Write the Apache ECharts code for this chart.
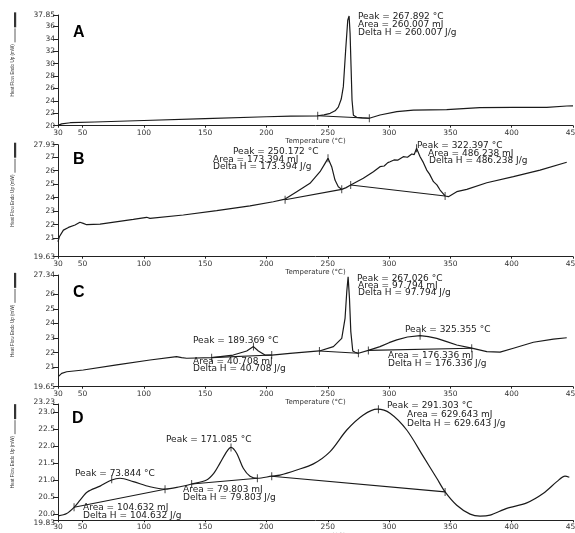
<!DOCTYPE html>
<html><head><meta charset="utf-8">
<script src="https://cdn.jsdelivr.net/npm/echarts@6/dist/echarts.min.js"></script>
<style>html,body{margin:0;padding:0;background:#fff}#c{width:575px;height:533px}</style>
</head><body><div id="c"></div>
<script>
// ---------- data ----------
const xTicks = [30, 50, 100, 150, 200, 250, 300, 350, 400, 450];

const yTicksA = [20, 22, 24, 26, 28, 30, 32, 34, 36, 37.85];
const yLabelsA = ['20', '22', '24', '26', '28', '30', '32', '34', '36', '37.85'];
const yTicksB = [19.63, 21, 22, 23, 24, 25, 26, 27, 27.93];
const yLabelsB = ['19.63', '21', '22', '23', '24', '25', '26', '27', '27.93'];
const yTicksC = [19.65, 21, 22, 23, 24, 25, 26, 27.34];
const yLabelsC = ['19.65', '21', '22', '23', '24', '25', '26', '27.34'];
const yTicksD = [19.83, 20.0, 20.5, 21.0, 21.5, 22.0, 22.5, 23.0, 23.23];
const yLabelsD = ['19.83', '20.0', '20.5', '21.0', '21.5', '22.0', '22.5', '23.0', '23.23'];

const tempA = [30, 33, 40, 60, 100, 150, 200, 220, 241.8, 247, 252, 256, 258.6, 261, 262.7, 264.6, 266.3, 267.4, 268.2, 269, 269.8, 270.9, 273.6, 278, 283.9, 292.6, 306.3, 319.8, 347, 374, 401, 428.6, 445, 450];
const heatA = [20.05, 20.3, 20.48, 20.6, 20.84, 21.14, 21.44, 21.56, 21.6, 21.75, 22.0, 22.4, 23.0, 24.3, 26.3, 32.2, 37.0, 37.7, 34.9, 29.5, 24.1, 21.7, 21.35, 21.25, 21.2, 21.73, 22.26, 22.5, 22.6, 22.9, 22.95, 22.95, 23.18, 23.2];
const baseTempA = [[241.8, 283.9]];
const baseHeatA = [[21.6, 21.2]];
const tickTempA = [241.8, 283.9];
const tickHeatA = [21.6, 21.2];

const tempB = [30, 31.1, 34.4, 38.5, 43.9, 47.9, 50.6, 53.4, 64.3, 91.4, 102.3, 105, 132.2, 159.4, 186.6, 205.6, 215.2, 224.7, 235.5, 243.7, 247.8, 250.2, 253.2, 255.9, 258.6, 261.4, 265, 268.7, 279, 287.2, 292.6, 296, 299, 300.8, 304, 307, 311.6, 315, 318.5, 320.5, 322.4, 325.3, 328, 330.7, 333, 336.2, 339, 341.6, 345.7, 348.4, 355.2, 363.4, 379.7, 401.4, 423.1, 444.9];
const heatB = [20.74, 21.11, 21.6, 21.8, 21.98, 22.18, 22.1, 22.0, 22.05, 22.4, 22.55, 22.47, 22.72, 23.04, 23.39, 23.7, 23.9, 24.45, 25.07, 25.93, 26.55, 26.92, 26.3, 25.31, 24.82, 24.62, 24.75, 24.94, 25.44, 25.93, 26.3, 26.35, 26.6, 26.67, 26.8, 26.78, 27.04, 27.0, 27.24, 27.2, 27.66, 27.04, 26.6, 26.05, 25.75, 25.19, 24.95, 24.57, 24.13, 24.08, 24.45, 24.62, 25.11, 25.56, 26.05, 26.63];
const baseTempB = [[215.2, 261.4], [268.7, 345.7]];
const baseHeatB = [[23.85, 24.62], [24.94, 24.13]];
const tickTempB = [215.2, 261.4, 268.7, 345.7, 250.2, 322.4];
const tickHeatB = [23.85, 24.62, 24.94, 24.13, 26.92, 27.66];

const tempC = [30.2, 33, 37.1, 50.6, 77.9, 105, 126.7, 130.8, 134.9, 155.3, 172.9, 183.9, 189.4, 193.4, 198.8, 204.3, 219.2, 243.2, 254.6, 261.4, 264.1, 265.5, 266.6, 267.7, 268.8, 270.4, 272.3, 275, 283.1, 292.6, 300, 306.3, 315, 325.3, 332, 338.9, 347, 355.2, 367.4, 379.7, 390.5, 401.4, 417.7, 434, 444.9];
const heatC = [20.34, 20.57, 20.68, 20.8, 21.15, 21.49, 21.72, 21.65, 21.61, 21.65, 21.83, 22.11, 22.41, 22.11, 21.83, 21.83, 21.95, 22.11, 22.41, 22.98, 24.36, 26.19, 27.22, 25.74, 23.44, 22.11, 22.02, 21.95, 22.15, 22.41, 22.68, 22.87, 23.07, 23.16, 23.1, 22.98, 22.75, 22.52, 22.3, 22.06, 22.03, 22.3, 22.71, 22.93, 23.02];
const baseTempC = [[155.3, 204.3], [243.2, 275], [283.1, 367.4]];
const baseHeatC = [[21.65, 21.83], [22.11, 21.95], [22.15, 22.3]];
const tickTempC = [155.3, 204.3, 189.4, 243.2, 275, 283.1, 367.4, 325.3];
const tickHeatC = [21.65, 21.83, 22.41, 22.11, 21.95, 22.15, 22.3, 23.16];

const tempD = [30.2, 37.1, 43.1, 48, 53.9, 64.3, 73.8, 80.6, 91.4, 105, 117.3, 129.5, 139, 151.2, 157, 162.1, 167.6, 171.1, 175.7, 181.1, 186.6, 192.6, 204.3, 211, 224.7, 238.3, 251.9, 265.5, 279, 290.5, 300.8, 314.4, 328, 338.9, 345.7, 355.2, 366.1, 374.2, 382.4, 396, 412.3, 425.9, 436.8, 443.5, 447];
const heatD = [19.96, 20.03, 20.21, 20.42, 20.66, 20.83, 21.01, 21.06, 20.96, 20.81, 20.74, 20.81, 20.89, 21.01, 21.2, 21.5, 21.84, 21.96, 21.79, 21.35, 21.12, 21.06, 21.12, 21.15, 21.3, 21.48, 21.84, 22.47, 22.91, 23.08, 22.96, 22.47, 21.69, 21.06, 20.66, 20.27, 20.01, 19.95, 19.98, 20.18, 20.34, 20.62, 20.96, 21.12, 21.09];
const baseTempD = [[43.1, 117.3], [139, 192.6], [204.3, 345.7]];
const baseHeatD = [[20.21, 20.74], [20.89, 21.06], [21.12, 20.66]];
const tickTempD = [43.1, 117.3, 73.8, 139, 192.6, 171.1, 204.3, 345.7, 291.3];
const tickHeatD = [20.21, 20.74, 21.03, 20.89, 21.06, 21.96, 21.12, 20.66, 23.08];

const panelLetters = ['A', 'B', 'C', 'D'];
const annotations = [
  ['Peak = 267.892 °C', 'Area = 260.007 mJ', 'Delta H = 260.007 J/g'],
  ['Peak = 250.172 °C', 'Area = 173.394 mJ', 'Delta H = 173.394 J/g'],
  ['Peak = 322.397 °C', 'Area = 486.238 mJ', 'Delta H = 486.238 J/g'],
  ['Peak = 189.369 °C', 'Area = 40.708 mJ', 'Delta H = 40.708 J/g'],
  ['Peak = 267.026 °C', 'Area = 97.794 mJ', 'Delta H = 97.794 J/g'],
  ['Peak = 325.355 °C', 'Area = 176.336 mJ', 'Delta H = 176.336 J/g'],
  ['Peak = 73.844 °C', 'Area = 104.632 mJ', 'Delta H = 104.632 J/g'],
  ['Peak = 171.085 °C', 'Area = 79.803 mJ', 'Delta H = 79.803 J/g'],
  ['Peak = 291.303 °C', 'Area = 629.643 mJ', 'Delta H = 629.643 J/g']
];
const xName = 'Temperature (°C)';
const yName = 'Heat Flow Endo Up (mW)';

// ---------- layout ----------
const panels = [
  {top: 15, height: 110.7, min: 20, max: 37.85, ticks: yTicksA, labels: yLabelsA, t: tempA, v: heatA, bt: baseTempA, bv: baseHeatA, kt: tickTempA, kv: tickHeatA, smooth: false, endPad: [0, 0], nameGap: 10},
  {top: 144.7, height: 112, min: 19.63, max: 27.93, ticks: yTicksB, labels: yLabelsB, t: tempB, v: heatB, bt: baseTempB, bv: baseHeatB, kt: tickTempB, kv: tickHeatB, smooth: false, endPad: [0, 0], nameGap: 10},
  {top: 275, height: 111.7, min: 19.65, max: 27.34, ticks: yTicksC, labels: yLabelsC, t: tempC, v: heatC, bt: baseTempC, bv: baseHeatC, kt: tickTempC, kv: tickHeatC, smooth: false, endPad: [0, 0], nameGap: 10},
  {top: 404, height: 116.3, min: 19.83, max: 23.23, ticks: yTicksD, labels: yLabelsD, t: tempD, v: heatD, bt: baseTempD, bv: baseHeatD, kt: tickTempD, kv: tickHeatD, smooth: 0.3, endPad: [5, 4], nameGap: 8}
];
const letterPos = [[73, 32.5], [73, 159.5], [73, 293], [72, 419]];
const annoPos = [
  [[358, 17], [358, 25], [358, 33]],
  [[233, 151.7], [213, 159.3], [213, 166.7]],
  [[417, 145.7], [428, 153.3], [429, 160.7]],
  [[193, 341], [193, 361.7], [193, 369]],
  [[357, 279], [358, 286], [358, 293]],
  [[405, 329.3], [388, 355.7], [388, 364]],
  [[75, 474], [83, 508], [83, 516]],
  [[166, 439.3], [183, 490], [183, 497.3]],
  [[387, 405.7], [407, 415], [407, 423.3]]
];

const ink = '#1a1a1a';
const axisFont = '"DejaVu Sans", sans-serif';
const grid = [], xAxis = [], yAxis = [], series = [], graphic = [];

panels.forEach((p, i) => {
  grid.push({left: 58, right: 2, top: p.top, height: p.height, outerBoundsMode: 'none', containLabel: false});
  xAxis.push({
    type: 'value', gridIndex: i, min: 30, max: 450,
    name: xName, nameLocation: 'middle', nameGap: p.nameGap,
    nameTextStyle: {fontFamily: axisFont, fontSize: 7, color: '#333'},
    axisLine: {lineStyle: {color: '#222', width: 1}},
    axisTick: {customValues: xTicks, length: 2, lineStyle: {color: '#222'}},
    axisLabel: {customValues: xTicks, fontFamily: axisFont, fontSize: 7.5, color: '#333', margin: 3,
      showMinLabel: true, showMaxLabel: true, hideOverlap: false},
    splitLine: {show: false}
  });
  const lab = {};
  p.ticks.forEach((t, k) => { lab[t] = p.labels[k]; });
  const lo = p.ticks[0], hi = p.ticks[p.ticks.length - 1];
  const inner = p.ticks.slice(1, p.ticks.length - 1);
  const fmt = v => (lab[v] !== undefined ? lab[v] : '');
  // main y axis: inner ticks
  yAxis.push({
    type: 'value', gridIndex: i, min: p.min, max: p.max,
    name: yName, nameLocation: 'middle', nameGap: 43, nameRotate: 90,
    nameTextStyle: {fontFamily: '"Liberation Sans", sans-serif', fontSize: 4.6, color: '#333'},
    axisLine: {show: true, lineStyle: {color: '#222', width: 1}},
    axisTick: {show: true, customValues: inner, length: 5, lineStyle: {color: '#222'}},
    axisLabel: {customValues: inner, fontFamily: axisFont, fontSize: 7.5, color: '#333', margin: 3,
      showMinLabel: true, showMaxLabel: true, hideOverlap: false, formatter: fmt},
    splitLine: {show: false}
  });
  // companion y axis on the same side: end ticks (min / max labels)
  const rich = {
    lo: {fontFamily: axisFont, fontSize: 7.5, color: '#333', padding: [p.endPad[0], 0, 0, 0]},
    hi: {fontFamily: axisFont, fontSize: 7.5, color: '#333', padding: [0, 0, p.endPad[1], 0]}
  };
  yAxis.push({
    type: 'value', gridIndex: i, min: p.min, max: p.max, position: 'left', offset: 0,
    axisLine: {show: false},
    axisTick: {show: true, customValues: [lo, hi], length: 5, lineStyle: {color: '#222'}},
    axisLabel: {customValues: [lo, hi], margin: 3, rich,
      showMinLabel: true, showMaxLabel: true, hideOverlap: false,
      formatter: v => (v === lo ? '{lo|' + fmt(v) + '}' : v === hi ? '{hi|' + fmt(v) + '}' : '')},
    splitLine: {show: false}
  });
  const yi = i * 2;
  series.push({
    type: 'line', xAxisIndex: i, yAxisIndex: yi, showSymbol: false, smooth: p.smooth,
    lineStyle: {color: ink, width: 1.2}, data: p.t.map((t, k) => [t, p.v[k]]), silent: true
  });
  p.bt.forEach((seg, s) => {
    series.push({
      type: 'line', xAxisIndex: i, yAxisIndex: yi, showSymbol: false,
      lineStyle: {color: ink, width: 1.1}, data: seg.map((t, k) => [t, p.bv[s][k]]), silent: true
    });
  });
  series.push({
    type: 'scatter', xAxisIndex: i, yAxisIndex: yi, symbol: 'rect', symbolSize: [1, 8],
    itemStyle: {color: ink}, data: p.kt.map((t, k) => [t, p.kv[k]]), silent: true
  });
  // legend line sample next to the y-axis title
  const mid = p.top + p.height / 2;
  graphic.push({type: 'line', shape: {x1: 15, y1: mid - 42, x2: 15, y2: mid - 28}, style: {stroke: '#333', lineWidth: 0.8}});
  graphic.push({type: 'rect', shape: {x: 14, y: mid - 58, width: 2.2, height: 15}, style: {fill: '#333'}});
  graphic.push({type: 'text', x: letterPos[i][0], y: letterPos[i][1],
    style: {text: panelLetters[i], font: 'bold 16px "Liberation Sans", Arial, sans-serif', fill: '#000', verticalAlign: 'middle', align: 'left'}});
});

annotations.forEach((lines, a) => {
  lines.forEach((txt, l) => {
    graphic.push({type: 'text', x: annoPos[a][l][0], y: annoPos[a][l][1],
      style: {text: txt, font: '9px "DejaVu Sans", sans-serif', fill: '#222', verticalAlign: 'middle', align: 'left'}});
  });
});

const chart = echarts.init(document.getElementById('c'), null, {renderer: 'canvas'});
chart.setOption({animation: false, backgroundColor: '#fff', grid, xAxis, yAxis, series, graphic});
</script>
</body></html>
